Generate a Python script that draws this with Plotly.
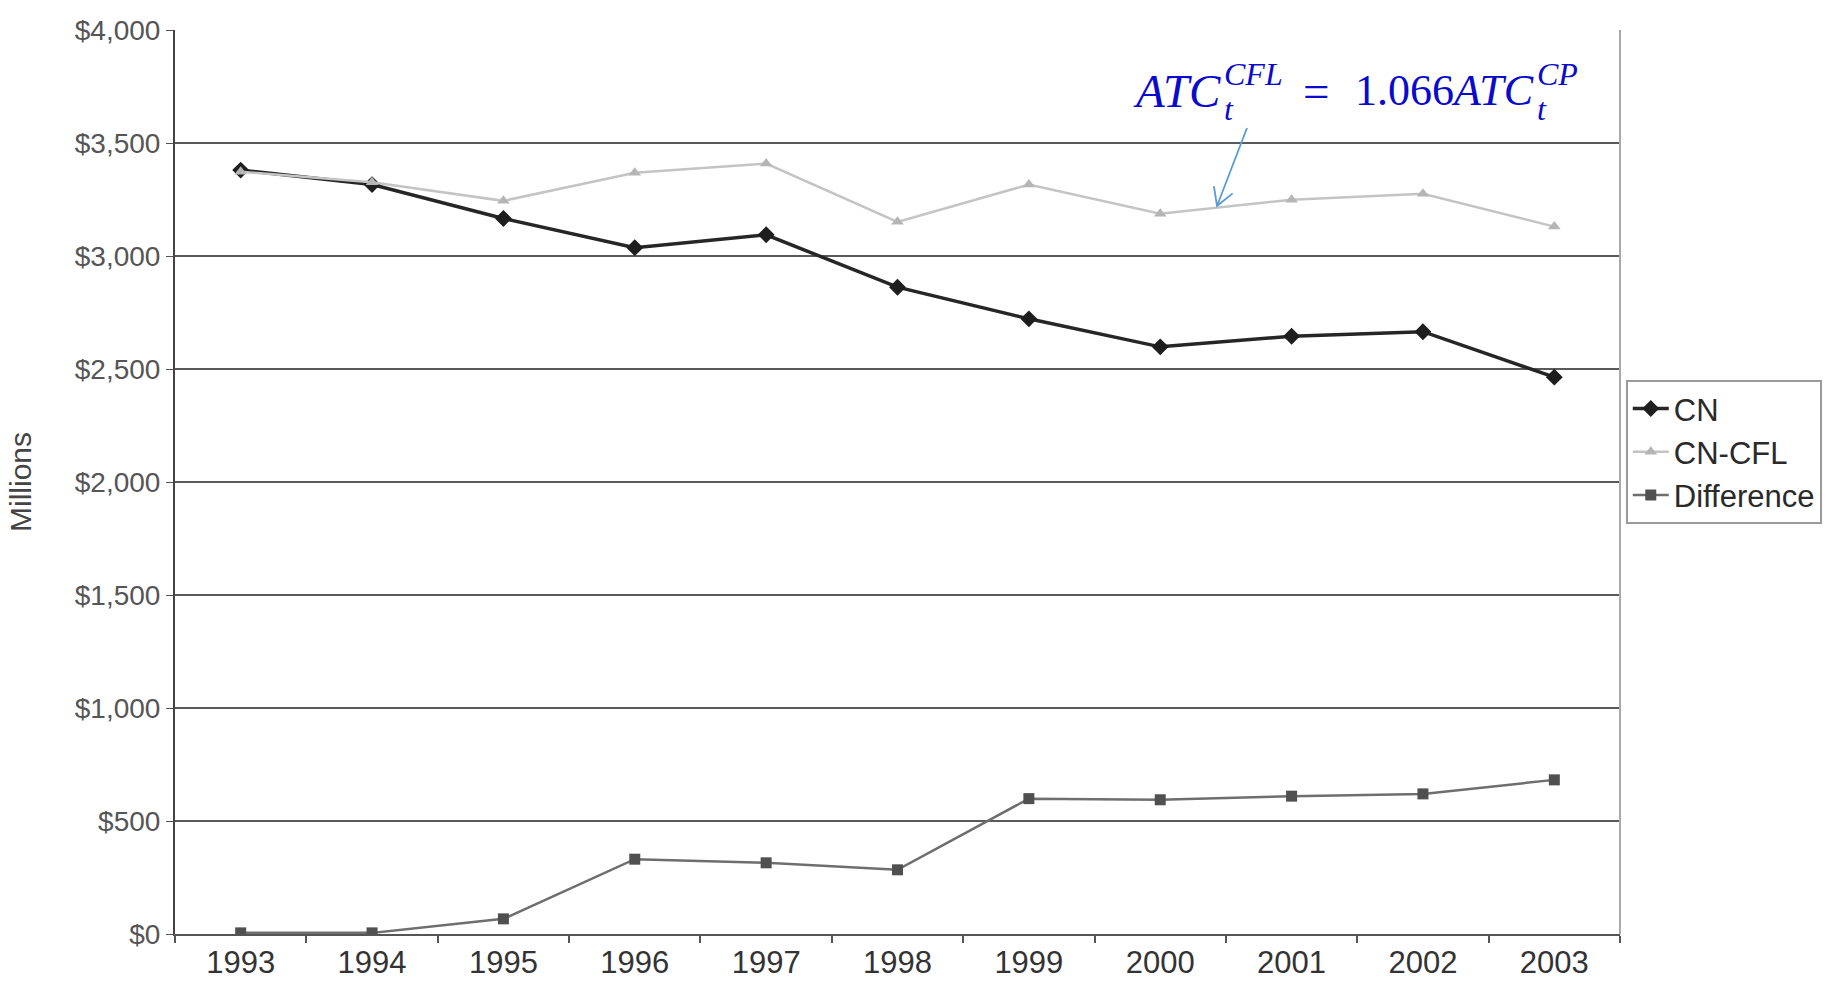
import plotly.graph_objects as go

years = ["1993", "1994", "1995", "1996", "1997", "1998", "1999", "2000", "2001", "2002", "2003"]
cn = [3380, 3316, 3166, 3037, 3094, 2862, 2722, 2598, 2645, 2665, 2464]
cn_cfl = [3373, 3326, 3244, 3368, 3409, 3151, 3316, 3187, 3249, 3275, 3130]
difference = [5, 5, 67, 331, 315, 284, 599, 594, 610, 620, 682]
y_ticks = [0, 500, 1000, 1500, 2000, 2500, 3000, 3500, 4000]
y_tick_labels = ["$0", "$500", "$1,000", "$1,500", "$2,000", "$2,500", "$3,000", "$3,500", "$4,000"]

sans = "Liberation Sans Narrow, Arial Narrow, Liberation Sans, Arial, sans-serif"

fig = go.Figure()
fig.add_trace(go.Scatter(x=years, y=cn, name="CN", mode="lines+markers",
                         line=dict(color="#262626", width=3.5),
                         marker=dict(symbol="diamond", size=13, color="#1e1e1e")))
fig.add_trace(go.Scatter(x=years, y=cn_cfl, name="CN-CFL", mode="lines+markers",
                         line=dict(color="#c4c4c4", width=2.5),
                         marker=dict(symbol="triangle-up", size=11, color="#b5b5b5")))
fig.add_trace(go.Scatter(x=years, y=difference, name="Difference", mode="lines+markers",
                         line=dict(color="#6e6e6e", width=2.5),
                         marker=dict(symbol="square", size=11, color="#505050")))

L, R, T, B = 175, 211, 30, 47
W, H = 1831, 981
PW, PH = W - L - R, H - T - B

def px(X):
    return (X - L) / PW

def py(Y):
    return (T + PH - Y) / PH

fig.update_layout(
    width=W, height=H,
    paper_bgcolor="white", plot_bgcolor="white",
    margin=dict(l=L, r=R, t=T, b=B, autoexpand=False),
    showlegend=True,
    legend=dict(x=1.004, y=0.613, xanchor="left", yanchor="top",
                bordercolor="#9a9a9a", borderwidth=2, bgcolor="white",
                font=dict(family=sans, size=31, color="#2a2a2a"),
                tracegroupgap=0, itemwidth=36),
    xaxis=dict(type="category", range=[-0.5, 10.5], tickson="boundaries",
               ticks="outside", ticklen=7, tickcolor="#555555", tickwidth=1.5,
               showline=True, linecolor="#555555", linewidth=2,
               showgrid=False, zeroline=False,
               tickfont=dict(family=sans, size=31, color="#333333")),
    yaxis=dict(range=[0, 4000], tickvals=y_ticks, ticktext=y_tick_labels,
               ticks="outside", ticklen=7, tickcolor="#555555",
               showline=True, linecolor="#444444", linewidth=2,
               showgrid=True, gridcolor="#5a5a5a", gridwidth=2, zeroline=False,
               tickfont=dict(family="Liberation Sans, Arial, sans-serif", size=28, color="#555555"),
               title=dict(text="Millions", standoff=34,
                          font=dict(family=sans, size=30, color="#444444"))),
)

fig.add_shape(type="line", xref="paper", yref="paper", x0=1, x1=1, y0=0, y1=1,
              line=dict(color="#aaaaaa", width=2))

# Equation annotation
blue = "#0a0acc"
serif = "Liberation Serif, DejaVu Serif, serif"
main_y, sup_y, sub_y = 0.933, 0.951, 0.913
pieces = [
    (0.6615, main_y, "<i>ATC</i>", 47),
    (0.7245, sup_y, "<i>CFL</i>", 32),
    (0.7245, sub_y, "<i>t</i>", 32),
    (0.779, main_y, "=", 47),
    (0.8155, main_y, "1.066<i>ATC</i>", 44),
    (0.9415, sup_y, "<i>CP</i>", 32),
    (0.9415, sub_y, "<i>t</i>", 32),
]
for x, y, txt, size in pieces:
    fig.add_annotation(xref="paper", yref="paper", x=x, y=y, xanchor="left", yanchor="middle",
                       text=txt, showarrow=False, font=dict(family=serif, size=size, color=blue))

# Arrow with open V head (pixel geometry in full-size coords)
tail = (1247, 128)
head = (1217, 206)
arm1 = (head[0] + 15.6, head[1] - 12.6)
arm2 = (head[0] - 3.1, head[1] - 19.8)
arrow_color = "#5b9bd5"
path = (f"M {px(tail[0])},{py(tail[1])} L {px(head[0])},{py(head[1])} "
        f"M {px(arm1[0])},{py(arm1[1])} L {px(head[0])},{py(head[1])} L {px(arm2[0])},{py(arm2[1])}")
fig.add_shape(type="path", xref="paper", yref="paper", path=path,
              line=dict(color=arrow_color, width=1.8))

fig.write_html("out.html")
